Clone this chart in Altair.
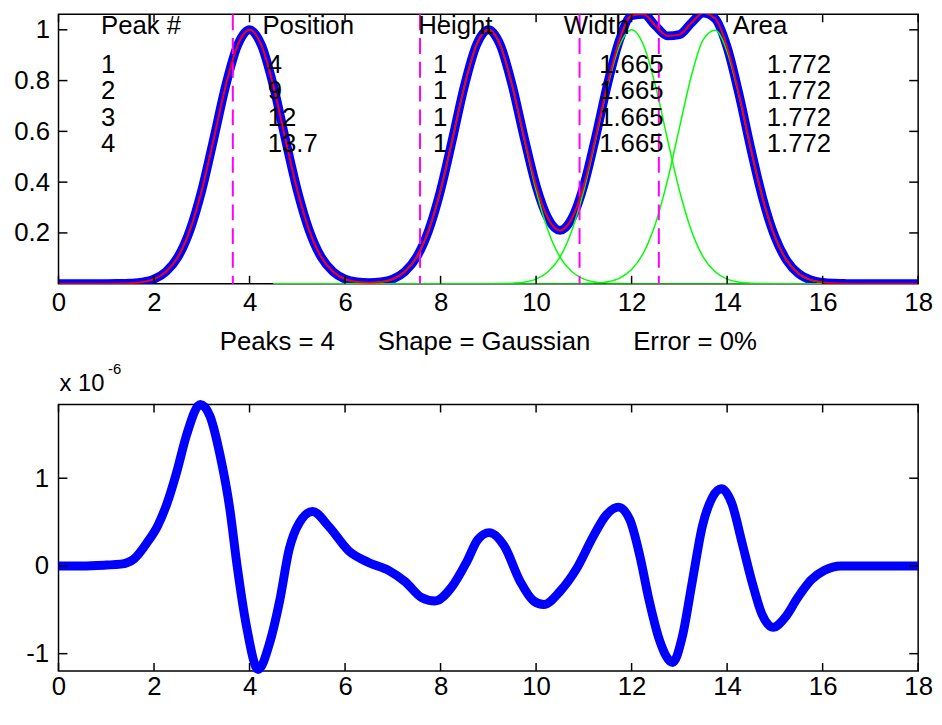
import altair as alt
import pandas as pd

# ---------------- data ----------------
X_TOP = [i * 0.25 for i in range(73)]          # sampling grid 0..18
Y_TOP = [
    0, 0, 0, 0, 0,
    0.0005, 0.002, 0.006, 0.018,
    0.047, 0.105, 0.210, 0.368,
    0.570, 0.779, 0.939, 1.0,
    0.939, 0.779, 0.570, 0.368,
    0.210, 0.105, 0.047, 0.018,
    0.007, 0.004, 0.007, 0.018,
    0.047, 0.105, 0.210, 0.368,
    0.570, 0.779, 0.939, 1.0,
    0.940, 0.781, 0.576, 0.386,
    0.257, 0.210, 0.257, 0.387,
    0.579, 0.789, 0.962, 1.056,
    1.061, 1.016, 0.976, 0.981,
    1.027, 1.066, 1.044, 0.932,
    0.745, 0.529, 0.333, 0.185,
    0.091, 0.039, 0.015, 0.005,
    0.0015, 0.0004, 0, 0,
    0, 0, 0, 0,
]

COMP_X = [4.5 + i * 0.25 for i in range(47)]    # 4.5..16
COMP_PEAK2 = [
    0, 0, 0, 0, 0, 0, 0,
    0.0005, 0.002, 0.006, 0.018, 0.047, 0.105, 0.210, 0.368, 0.570, 0.779, 0.939,
    1.0, 0.939, 0.779, 0.570, 0.368, 0.210, 0.105, 0.047, 0.018, 0.006, 0.002, 0.0005,
    0, 0, 0, 0, 0, 0, 0, 0, 0, 0, 0, 0, 0, 0, 0, 0, 0,
]
COMP_PEAK3 = [
    0, 0, 0, 0, 0, 0, 0, 0, 0, 0, 0, 0, 0, 0, 0, 0, 0, 0,
    0.0001, 0.0005, 0.002, 0.006, 0.018, 0.047, 0.105, 0.210, 0.368, 0.570, 0.779, 0.939,
    1.0, 0.939, 0.779, 0.570, 0.368, 0.210, 0.105, 0.047, 0.018, 0.006, 0.002, 0.0005,
    0, 0, 0, 0, 0,
]
COMP_PEAK4 = [
    0, 0, 0, 0, 0, 0, 0, 0, 0, 0, 0, 0, 0, 0, 0, 0, 0, 0, 0, 0, 0, 0, 0, 0, 0,
    0.0002, 0.0007, 0.0025, 0.0079, 0.0223, 0.0556, 0.122, 0.237, 0.406, 0.613, 0.817,
    0.961, 0.998, 0.914, 0.739, 0.527, 0.332, 0.185, 0.091, 0.039, 0.015, 0.005,
]

SEGMENTS = [3.65, 7.57, 10.91, 12.57]

RES_X = [0, 0.5, 1.0, 1.3, 1.58, 1.86, 2.07, 2.27, 2.48, 2.68, 2.97, 3.17, 3.38, 3.59,
         3.73, 3.94, 4.18, 4.42, 4.63, 4.83, 5.04, 5.32, 5.66, 6.08, 6.49, 6.91, 7.26,
         7.60, 7.88, 8.22, 8.55, 8.78, 9.02, 9.33, 9.67, 9.95, 10.16, 10.50, 10.85,
         11.20, 11.47, 11.72, 11.96, 12.17, 12.37, 12.58, 12.86, 13.06, 13.27, 13.48,
         13.69, 13.88, 14.10, 14.31, 14.52, 14.73, 14.96, 15.21, 15.48, 15.76, 16.04,
         16.38, 17.0, 18.0]
RES_Y = [0, 0, 0.01, 0.02, 0.08, 0.27, 0.45, 0.71, 1.08, 1.49, 1.84, 1.71, 1.27, 0.64,
         0.04, -0.70, -1.18, -0.88, -0.40, 0.19, 0.49, 0.62, 0.45, 0.17, 0.04, -0.05,
         -0.18, -0.36, -0.40, -0.25, 0.05, 0.30, 0.38, 0.23, -0.18, -0.40, -0.44, -0.29,
         -0.03, 0.34, 0.58, 0.67, 0.53, 0.12, -0.40, -0.84, -1.10, -0.81, -0.18, 0.45,
         0.78, 0.88, 0.71, 0.27, -0.18, -0.55, -0.70, -0.59, -0.36, -0.16, -0.05, 0, 0, 0]

X_TICKS = [0, 2, 4, 6, 8, 10, 12, 14, 16, 18]
Y_TICKS_TOP = [0.2, 0.4, 0.6, 0.8, 1]
Y_TICKS_BOT = [-1, 0, 1]

HEADERS = ["Peak #", "Position", "Height", "Width", "Area"]
HEADER_X = [0.89, 4.27, 7.53, 10.58, 14.12]
HEADER_Y = 0.984
PEAK_NUM = ["1", "2", "3", "4"]
POSITIONS = ["4", "9", "12", "13.7"]
HEIGHTS = ["1", "1", "1", "1"]
WIDTHS = ["1.665", "1.665", "1.665", "1.665"]
AREAS = ["1.772", "1.772", "1.772", "1.772"]
COL_X = [0.89, 4.38, 7.84, 11.32, 14.83]
ROW_Y = [0.83, 0.726, 0.622, 0.52]

FOOTER = "Peaks = 4\u00a0\u00a0\u00a0\u00a0\u00a0\u00a0Shape = Gaussian\u00a0\u00a0\u00a0\u00a0\u00a0\u00a0Error = 0%"
EXP_BASE = "x 10"
EXP_POW = "-6"

# ---------------- styling ----------------
FONT = "Liberation Sans"
FS = 26
W, H1, H2 = 868, 272, 269
GAP = 122
TICK = 8
BLUE, RED, GREEN, MAGENTA = "#0000FF", "#FF0000", "#00FF00", "#FF00FF"

XSCALE = alt.Scale(domain=[0, 18], nice=False, zero=False)
YSCALE_TOP = alt.Scale(domain=[0, 1.061], nice=False, zero=False)
YSCALE_BOT = alt.Scale(domain=[-1.197, 1.84], nice=False, zero=False)


def xenc(field, pad=6):
    return alt.X(f"{field}:Q", scale=XSCALE,
                 axis=alt.Axis(values=X_TICKS, labelExpr="'' + datum.value", title=None,
                               labelFlush=False, labelPadding=pad))


def yenc_top(field):
    return alt.Y(f"{field}:Q", scale=YSCALE_TOP,
                 axis=alt.Axis(values=Y_TICKS_TOP, labelExpr="'' + datum.value", title=None,
                               labelPadding=9, minExtent=44, maxExtent=44))


def yenc_bot(field):
    return alt.Y(f"{field}:Q", scale=YSCALE_BOT,
                 axis=alt.Axis(values=Y_TICKS_BOT, labelExpr="'' + datum.value", title=None,
                               labelPadding=10, minExtent=44, maxExtent=44))


def tick_layers(yenc, yticks, height, pad):
    xt = pd.DataFrame({"tx": X_TICKS})
    yt = pd.DataFrame({"ty": yticks})
    base_x = alt.Chart(xt).mark_rule(color="black", strokeWidth=1.5)
    base_y = alt.Chart(yt).mark_rule(color="black", strokeWidth=1.5)
    return [
        base_x.encode(x=xenc("tx", pad), y=alt.value(height), y2=alt.value(height - TICK)),
        base_x.encode(x=xenc("tx", pad), y=alt.value(0), y2=alt.value(TICK)),
        base_y.encode(y=yenc("ty"), x=alt.value(0), x2=alt.value(TICK + 1)),
        base_y.encode(y=yenc("ty"), x=alt.value(W), x2=alt.value(W - TICK - 1)),
    ]


LINE_STYLE = dict(interpolate="monotone", strokeJoin="round", strokeCap="butt")

# ---------------- top panel ----------------
top_df = pd.DataFrame({"x": X_TOP, "y": Y_TOP})
comp_df = pd.concat([
    pd.DataFrame({"x": COMP_X, "y": COMP_PEAK2, "c": "2"}),
    pd.DataFrame({"x": COMP_X, "y": COMP_PEAK3, "c": "3"}),
    pd.DataFrame({"x": COMP_X, "y": COMP_PEAK4, "c": "4"}),
])
seg_df = pd.DataFrame({"s": SEGMENTS})

text_rows = []
for hx, h in zip(HEADER_X, HEADERS):
    text_rows.append({"x": hx, "y": HEADER_Y, "t": h})
for col, vals in zip(COL_X, [PEAK_NUM, POSITIONS, HEIGHTS, WIDTHS, AREAS]):
    for ry, v in zip(ROW_Y, vals):
        text_rows.append({"x": col, "y": ry, "t": v})
text_df = pd.DataFrame(text_rows)

blue_top = alt.Chart(top_df).mark_line(color=BLUE, strokeWidth=9, clip=True, **LINE_STYLE).encode(
    x=xenc("x"), y=yenc_top("y"))
green = alt.Chart(comp_df).mark_line(color=GREEN, strokeWidth=1.5, clip=True, **LINE_STYLE).encode(
    x=xenc("x"), y=yenc_top("y"), detail="c:N")
segs = alt.Chart(seg_df).mark_rule(color=MAGENTA, strokeWidth=2, strokeDash=[16, 8]).encode(
    x=xenc("s"), y=alt.value(0), y2=alt.value(H1))
red = alt.Chart(top_df).mark_line(color=RED, strokeWidth=2, clip=True, **LINE_STYLE).encode(
    x=xenc("x"), y=yenc_top("y"))
table = alt.Chart(text_df).mark_text(font=FONT, fontSize=FS, align="left", baseline="alphabetic",
                                     color="black").encode(x=xenc("x"), y=yenc_top("y"), text="t:N")
footer = alt.Chart(pd.DataFrame({"t": [FOOTER]})).mark_text(
    font=FONT, fontSize=FS, align="center", baseline="alphabetic", color="black").encode(
    text="t:N", x=alt.value(W / 2), y=alt.value(H1 + 67))
exp_base = alt.Chart(pd.DataFrame({"t": [EXP_BASE]})).mark_text(
    font=FONT, fontSize=24, align="left", baseline="alphabetic", color="black").encode(
    text="t:N", x=alt.value(1), y=alt.value(H1 + GAP - 14))
exp_pow = alt.Chart(pd.DataFrame({"t": [EXP_POW]})).mark_text(
    font=FONT, fontSize=15, align="left", baseline="alphabetic", color="black").encode(
    text="t:N", x=alt.value(50), y=alt.value(H1 + GAP - 31))

top = alt.layer(blue_top, green, segs, red, table, *tick_layers(yenc_top, Y_TICKS_TOP, H1, 6),
                footer, exp_base, exp_pow).properties(width=W, height=H1)

# ---------------- bottom panel ----------------
res_df = pd.DataFrame({"x": RES_X, "y": RES_Y})
blue_bot = alt.Chart(res_df).mark_line(color=BLUE, strokeWidth=9, **LINE_STYLE).encode(
    x=xenc("x", 3), y=yenc_bot("y"))

bottom = alt.layer(blue_bot, *tick_layers(yenc_bot, Y_TICKS_BOT, H2, 3)
                   ).properties(width=W, height=H2)

chart = alt.vconcat(top, bottom, spacing=GAP, bounds="flush").properties(
    padding={"left": 5, "top": 0, "right": 0, "bottom": 0}, background="white"
).configure_view(stroke="black", strokeWidth=1.5).configure_axis(
    domain=False, ticks=False, grid=False, labelFont=FONT, labelFontSize=FS, labelColor="black"
)

chart.save("out.html", embed_options={"renderer": "svg", "actions": False})
